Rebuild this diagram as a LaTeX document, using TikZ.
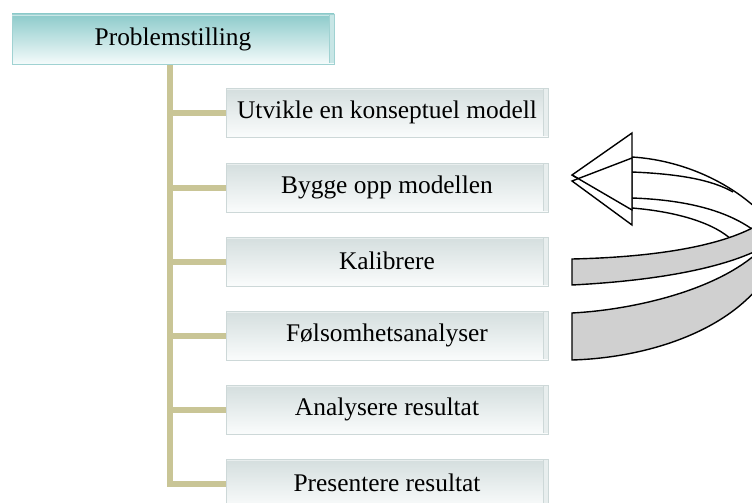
\documentclass[tikz,border=0pt]{standalone}
\usepackage{fontspec}
\setmainfont{Liberation Serif}
\definecolor{headtop}{RGB}{140,202,202}
\definecolor{headbot}{RGB}{244,251,251}
\definecolor{headedge}{RGB}{160,210,210}
\definecolor{headbevel}{RGB}{200,230,230}
\definecolor{boxtop}{RGB}{212,222,222}
\definecolor{boxbot}{RGB}{250,252,252}
\definecolor{boxedge}{RGB}{205,216,216}
\definecolor{boxbevel}{RGB}{232,238,238}
\definecolor{khaki}{RGB}{201,197,150}
\definecolor{bandgray}{RGB}{208,208,208}
\tikzset{
  headbox/.style={draw=headedge, line width=0.8pt, top color=headtop, bottom color=headbot,
    minimum width=322pt, minimum height=50pt, inner sep=0pt,
    font=\fontsize{25.4}{30}\selectfont},
  stepbox/.style={draw=boxedge, line width=0.8pt, top color=boxtop, bottom color=boxbot,
    minimum width=322pt, minimum height=49pt, inner sep=0pt,
    font=\fontsize{25.4}{30}\selectfont},
  trunk/.style={draw=khaki, line width=6pt},
  ribbon/.style={draw=black, line width=1.4pt, line join=miter},
}
\begin{document}
\begin{tikzpicture}[x=1pt,y=-1pt]
\useasboundingbox (0,0) rectangle (752,503);
\clip (0,0) rectangle (752,503);

% heading box
\node[headbox] (prob) at (173,39) {\raisebox{1.5pt}{Problemstilling}};
\fill[headbevel] ([xshift=-5pt,yshift=-1pt]prob.north east) rectangle ([yshift=1pt]prob.south east);
\draw[headedge, line width=0.6pt] ([xshift=-5pt,yshift=-1pt]prob.north east) -- ([xshift=-5pt,yshift=1pt]prob.south east);
\draw[headbevel, line width=1.2pt] ([yshift=-2pt]prob.north west) -- ([xshift=-5pt,yshift=-2pt]prob.north east);

% step boxes
\foreach \name/\yy/\txt in {c1/112.5/Utvikle en konseptuel modell,
                            c2/187.5/Bygge opp modellen,
                            c3/261.5/Kalibrere,
                            c4/335.5/Følsomhetsanalyser,
                            c5/409.5/Analysere resultat,
                            c6/483.5/Presentere resultat}{
  \node[stepbox] (\name) at (387,\yy) {\raisebox{1.5pt}{\txt}};
  \fill[boxbevel] ([xshift=-5pt,yshift=-1pt]\name.north east) rectangle ([yshift=1pt]\name.south east);
  \draw[boxedge, line width=0.6pt] ([xshift=-5pt,yshift=-1pt]\name.north east) -- ([xshift=-5pt,yshift=1pt]\name.south east);
  \draw[boxbevel, line width=1pt] ([xshift=1pt,yshift=-1.8pt]\name.north west) -- ([xshift=-5pt,yshift=-1.8pt]\name.north east);
}

% tree connectors
\coordinate (tb) at (170,483.5);
\draw[trunk] ([yshift=-0.5pt]prob.south -| tb) -- ([yshift=3pt]tb);
\foreach \name in {c1,c2,c3,c4,c5,c6}{
  \draw[trunk] ([xshift=-3pt]\name.west -| tb) -- (\name.west);
}

% U-turn arrow: arrowheads
\filldraw[ribbon, fill=white] (572,175) -- (632,133) -- (632,157) -- (632,198) -- (632,210) -- cycle;
\filldraw[ribbon, fill=white] (572,181) -- (632,158) -- (632,172) -- (632,208) -- (632,225) -- cycle;
\draw[ribbon] (572,175) -- (632,210);
\fill[white] (633,158) rectangle (640,207);
% upper leg (rims)
\draw[ribbon] (632,157) .. controls (680,160) and (725,180) .. (756,208);
\draw[ribbon] (632,172) .. controls (680,174) and (712,180) .. (733,192);
\draw[ribbon] (632,198) .. controls (690,200) and (730,212) .. (756,232);
\draw[ribbon] (632,208) .. controls (680,212) and (715,224) .. (732,240);
% lower leg (grey faces)
\filldraw[ribbon, fill=bandgray] (572,259) .. controls (660,257) and (722,245) .. (756,226)
  -- (756,251) .. controls (715,270) and (650,281) .. (572,285) -- cycle;
\filldraw[ribbon, fill=bandgray] (572,313) .. controls (630,310) and (712,292) .. (756,254)
  -- (756,290) .. controls (715,336) and (640,358) .. (572,360) -- cycle;
\end{tikzpicture}
\end{document}
